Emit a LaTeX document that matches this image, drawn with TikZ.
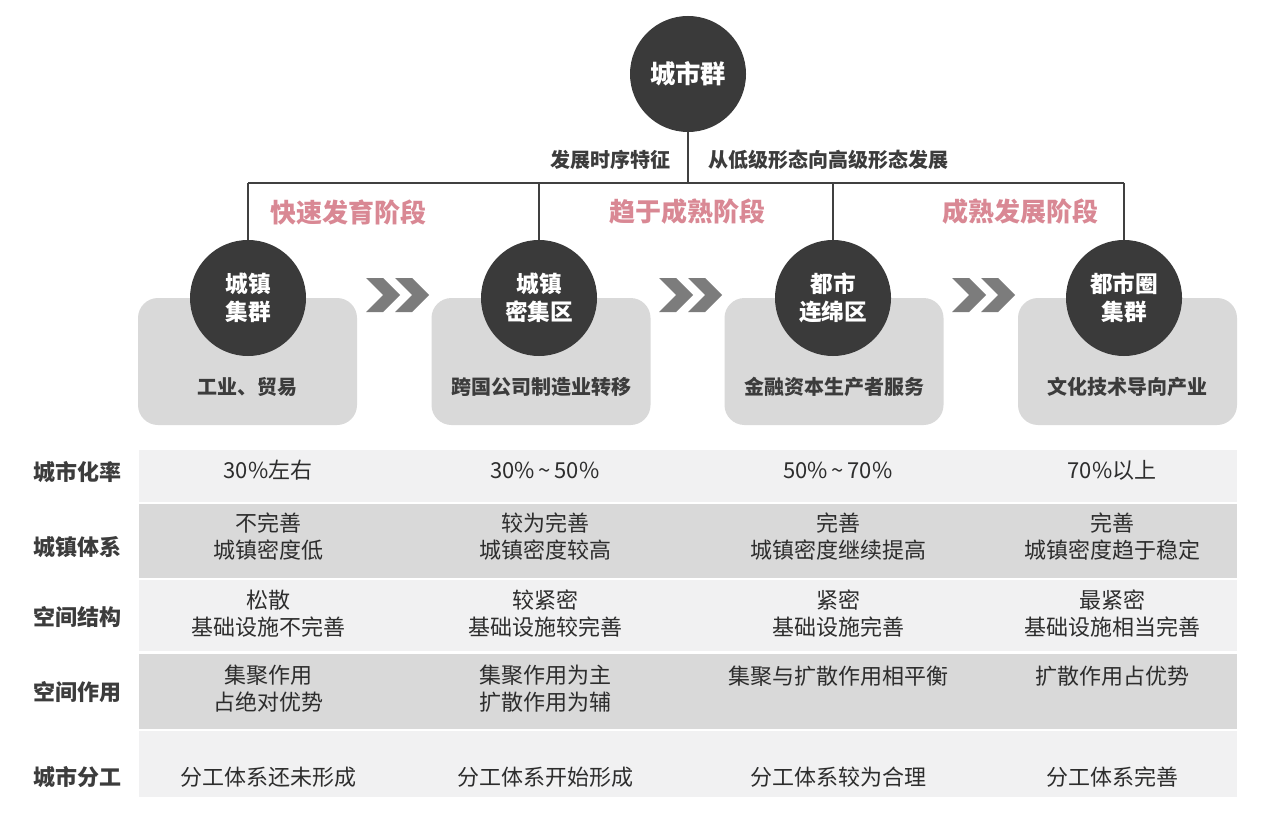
\documentclass[tikz,border=0pt]{standalone}
\usepackage{fontspec}
\setmainfont{Noto Sans CJK SC}
\definecolor{circfill}{RGB}{58,58,58}
\definecolor{linecol}{RGB}{64,64,64}
\definecolor{boxfill}{RGB}{217,217,217}
\definecolor{lightrow}{RGB}{241,241,242}
\definecolor{darkrow}{RGB}{217,217,217}
\definecolor{pinkcol}{RGB}{217,136,148}
\definecolor{chevcol}{RGB}{124,124,124}
\definecolor{txtcol}{RGB}{45,45,45}
\definecolor{lblcol}{RGB}{60,60,60}
\tikzset{
  circ/.style={circle,fill=circfill,minimum size=87pt,inner sep=0pt,text=white,align=center,font=\bfseries\fontsize{17}{21}\selectfont},
  topcirc/.style={circ,font=\bfseries\fontsize{19}{22}\selectfont},
  graybox/.style={rectangle,rounded corners=15pt,fill=boxfill,minimum width=164.25pt,minimum height=95.25pt,inner sep=0pt},
  boxtext/.style={text=lblcol,font=\bfseries\fontsize{15}{18}\selectfont,inner sep=0pt},
  stagetext/.style={text=pinkcol,font=\bfseries\fontsize{19.5}{22}\selectfont,inner sep=0pt},
  toptext/.style={text=lblcol,font=\bfseries\fontsize{15}{18}\selectfont,inner sep=0pt},
  conn/.style={draw=linecol,line width=1.5pt},
  chev/.style={fill=chevcol},
  rowlabel/.style={text=lblcol,font=\bfseries\fontsize{16.5}{20}\selectfont,inner sep=0pt},
  cell/.style={text=txtcol,font=\fontsize{16.5}{20.25}\selectfont,align=center,inner sep=0pt},
}
\begin{document}
\begin{tikzpicture}[x=0.75pt,y=-0.75pt]
\useasboundingbox[fill=white] (0,0) rectangle (1280,827);

% table rows
\fill[lightrow] (139,450) rectangle (1237,502);
\fill[darkrow]  (139,504) rectangle (1237,578);
\fill[lightrow] (139,580) rectangle (1237,651);
\fill[darkrow]  (139,654) rectangle (1237,729);
\fill[lightrow] (139,731) rectangle (1237,797);

% gray boxes
\node[graybox] (b1) at (247.5,361.5) {};
\node[graybox] (b2) at (541,361.5) {};
\node[graybox] (b3) at (834,361.5) {};
\node[graybox] (b4) at (1127.5,361.5) {};

\node[boxtext] (t1) at (247.5,387) {工业、贸易};
\node[boxtext] (t2) at (541,387) {跨国公司制造业转移};
\node[boxtext] (t3) at (834,387) {金融资本生产者服务};
\node[boxtext] (t4) at (1127.5,387) {文化技术导向产业};

% chevrons
\foreach \xo in {366,395,659,688,952,981}{
  \fill[chev] (\xo,278) -- ++(17,0) -- ++(17,17) -- ++(-17,17) -- ++(-17,0) -- ++(17,-17) -- cycle;
}

% circles
\node[topcirc] (top) at (688,74) {城市群};
\node[circ] (c1) at (248,298) {城镇\\集群};
\node[circ] (c2) at (539,298) {城镇\\密集区};
\node[circ] (c3) at (833,298) {都市\\连绵区};
\node[circ] (c4) at (1124,298) {都市圈\\集群};

% connectors
\coordinate (hl) at (248,183);
\coordinate (hr) at (1124,183);
\draw[conn] (hl) -- (hr);
\draw[conn] (top.south) -- (top.south |- hl);
\draw[conn] (c1.north |- hl) -- (c1.north);
\draw[conn] (c2.north |- hl) -- (c2.north);
\draw[conn] (c3.north |- hl) -- (c3.north);
\draw[conn] (c4.north |- hl) -- (c4.north);

% top texts
\node[toptext] (d1) at (610,160) {发展时序特征};
\node[toptext] (d2) at (828,160) {从低级形态向高级形态发展};

% stage labels
\node[stagetext] (s1) at (348,212) {快速发育阶段};
\node[stagetext] (s2) at (687,212) {趋于成熟阶段};
\node[stagetext] (s3) at (1020,212) {成熟发展阶段};

% row labels
\node[rowlabel] (l1) at (77,472) {城市化率};
\node[rowlabel] (l2) at (77,547) {城镇体系};
\node[rowlabel] (l3) at (77,617) {空间结构};
\node[rowlabel] (l4) at (77,692) {空间作用};
\node[rowlabel] (l5) at (77,777) {城市分工};

% row 1
\node[cell] (r1a) at (268,470) {30\%左右};
\node[cell] (r1b) at (545,470) {30\%\,\textasciitilde\,50\%};
\node[cell] (r1c) at (838,470) {50\%\,\textasciitilde\,70\%};
\node[cell] (r1d) at (1112,470) {70\%以上};
% row 2
\node[cell] (r2a) at (268,536.5) {不完善\\城镇密度低};
\node[cell] (r2b) at (545,536.5) {较为完善\\城镇密度较高};
\node[cell] (r2c) at (838,536.5) {完善\\城镇密度继续提高};
\node[cell] (r2d) at (1112,536.5) {完善\\城镇密度趋于稳定};
% row 3
\node[cell] (r3a) at (268,613.5) {松散\\基础设施不完善};
\node[cell] (r3b) at (545,613.5) {较紧密\\基础设施较完善};
\node[cell] (r3c) at (838,613.5) {紧密\\基础设施完善};
\node[cell] (r3d) at (1112,613.5) {最紧密\\基础设施相当完善};
% row 4
\node[cell] (r4a) at (268,689) {集聚作用\\占绝对优势};
\node[cell] (r4b) at (545,689) {集聚作用为主\\扩散作用为辅};
\node[cell] (r4c) at (838,676) {集聚与扩散作用相平衡};
\node[cell] (r4d) at (1112,676) {扩散作用占优势};
% row 5
\node[cell] (r5a) at (268,777) {分工体系还未形成};
\node[cell] (r5b) at (545,777) {分工体系开始形成};
\node[cell] (r5c) at (838,777) {分工体系较为合理};
\node[cell] (r5d) at (1112,777) {分工体系完善};
\end{tikzpicture}
\end{document}
